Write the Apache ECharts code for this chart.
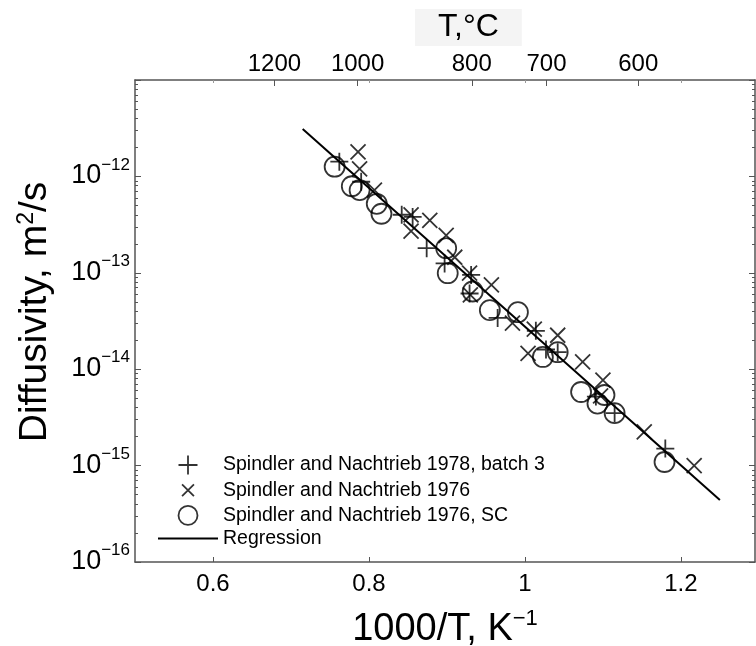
<!DOCTYPE html>
<html>
<head>
<meta charset="utf-8">
<script src="https://cdn.jsdelivr.net/npm/echarts@6/dist/echarts.min.js"></script>
<style>
  html, body { margin: 0; padding: 0; background: #fff; }
  #chart-container { width: 756px; height: 646px; }
</style>
</head>
<body>
<div id="chart-container"></div>
<script>
// 1000/T (K^-1) and diffusivity (m^2/s)
const batch3 = [
  [0.762, 1.42e-12], [0.790, 8.8e-13], [0.842, 4.0e-13], [0.856, 3.8e-13],
  [0.874, 1.8e-13], [0.897, 1.25e-13], [0.931, 9.5e-14], [0.929, 6.1e-14],
  [0.965, 3.4e-14], [1.014, 2.5e-14], [1.027, 1.6e-14], [1.042, 1.5e-14],
  [1.091, 5.2e-15], [1.115, 3.5e-15], [1.180, 1.5e-15]
];
const sn1976 = [
  [0.786, 1.8e-12], [0.788, 1.2e-12], [0.807, 7.2e-13], [0.854, 4.0e-13],
  [0.878, 3.5e-13], [0.854, 2.7e-13], [0.899, 2.45e-13], [0.910, 1.45e-13],
  [0.929, 9.9e-14], [0.957, 7.5e-14], [0.930, 5.9e-14], [0.984, 3.0e-14],
  [1.012, 2.6e-14], [1.042, 2.25e-14], [1.004, 1.46e-14], [1.074, 1.19e-14],
  [1.100, 7.7e-15], [1.097, 5.3e-15], [1.153, 2.24e-15], [1.217, 1.0e-15]
];
const sn1976SC = [
  [0.756, 1.26e-12], [0.778, 7.9e-13], [0.788, 7.2e-13], [0.810, 5.2e-13],
  [0.816, 4.1e-13], [0.899, 1.8e-13], [0.901, 9.9e-14], [0.933, 6.4e-14],
  [0.955, 4.1e-14], [0.991, 3.9e-14], [1.023, 1.34e-14], [1.042, 1.5e-14],
  [1.072, 5.8e-15], [1.093, 4.4e-15], [1.102, 5.4e-15], [1.115, 3.5e-15],
  [1.179, 1.09e-15]
];
const regression = [[0.715, 3.1e-12], [1.250, 4.4e-16]];

const seriesNames = [
  'Spindler and Nachtrieb 1978, batch 3',
  'Spindler and Nachtrieb 1976',
  'Spindler and Nachtrieb 1976, SC',
  'Regression'
];

// tick labels
const xTicks = [0.6, 0.8, 1.0, 1.2];
const tempTicks = [1200, 1000, 800, 700, 600]; // deg C, top axis

const FONT = "'Liberation Sans', Arial, Helvetica, sans-serif";
const AXIS_COLOR = '#555';
const X_MIN = 0.5, X_MAX = 1.295;
const MARK_W = 1.8;

const myChart = echarts.init(document.getElementById('chart-container'));

const logAxis = (pos, extra) => Object.assign({
  type: 'log',
  logBase: 10,
  min: 1e-16,
  max: 1e-11,
  position: pos,
  splitLine: { show: false },
  minorSplitLine: { show: false },
  axisLine: { show: true, lineStyle: { color: AXIS_COLOR, width: 1.5 } },
  axisTick: { show: true, inside: true, length: 6, lineStyle: { color: AXIS_COLOR } },
  minorTick: { show: true, splitNumber: 9, length: 3, lineStyle: { color: AXIS_COLOR } },
  axisLabel: { show: false }
}, extra);

const option = {
  animation: false,
  backgroundColor: '#fff',
  textStyle: { fontFamily: FONT, color: '#000' },
  title: {
    text: 'T,°C',
    left: 415,
    top: 9,
    backgroundColor: '#f4f4f4',
    padding: [2, 23, 3, 23],
    textStyle: { fontFamily: FONT, fontSize: 32, fontWeight: 'normal', color: '#000' }
  },
  grid: { left: 135, right: 1, top: 80, bottom: 84, containLabel: false, outerBoundsMode: 'none' },
  legend: {
    orient: 'vertical',
    left: 157,
    top: 453,
    padding: 0,
    itemWidth: 60,
    itemHeight: 19,
    itemGap: 1.2,
    data: [
      seriesNames[0], seriesNames[1], seriesNames[2],
      { name: seriesNames[3], itemStyle: { opacity: 0 } }
    ],
    textStyle: { fontFamily: FONT, fontSize: 19.5, lineHeight: 19, color: '#000' },
    itemStyle: { borderWidth: MARK_W }
  },
  xAxis: [
    {
      type: 'value', min: X_MIN, max: X_MAX, position: 'bottom',
      name: '{a|1000/T, K}{s|−1}',
      nameLocation: 'middle', nameGap: 46,
      nameTextStyle: {
        rich: {
          a: { fontFamily: FONT, fontSize: 38, color: '#000', verticalAlign: 'bottom' },
          s: { fontFamily: FONT, fontSize: 22, color: '#000', verticalAlign: 'bottom', padding: [0, 0, 19, 0] }
        }
      },
      splitLine: { show: false },
      axisLine: { lineStyle: { color: AXIS_COLOR, width: 1.5 } },
      axisTick: { inside: true, length: 5, customValues: xTicks, lineStyle: { color: AXIS_COLOR } },
      axisLabel: {
        customValues: xTicks, margin: 10, fontFamily: FONT, fontSize: 24, color: '#000',
        formatter: v => String(Math.round(v * 10) / 10)
      }
    },
    {
      type: 'value', min: X_MIN, max: X_MAX, position: 'top',
      splitLine: { show: false },
      axisLine: { lineStyle: { color: AXIS_COLOR, width: 1.5 } },
      axisTick: {
        inside: true, length: 6, lineStyle: { color: AXIS_COLOR },
        customValues: tempTicks.map(t => 1000 / (t + 273.15))
      },
      axisLabel: {
        customValues: tempTicks.map(t => 1000 / (t + 273.15)),
        margin: 4, fontFamily: FONT, fontSize: 24, color: '#000',
        formatter: v => String(Math.round(1000 / v - 273.15))
      }
    },
    {
      type: 'value', min: X_MIN, max: X_MAX, position: 'top',
      splitLine: { show: false },
      axisLine: { show: false },
      axisTick: { inside: true, length: 3, customValues: xTicks, lineStyle: { color: '#999' } },
      axisLabel: { show: false }
    }
  ],
  yAxis: [
    logAxis('left', {
      name: '{a|Diffusivity, m}{s|2}{a|/s}',
      nameLocation: 'middle', nameRotate: 90, nameGap: 80,
      nameTextStyle: {
        padding: [0, 0, 0, 18],
        rich: {
          a: { fontFamily: FONT, fontSize: 39, color: '#000', verticalAlign: 'bottom' },
          s: { fontFamily: FONT, fontSize: 23, color: '#000', verticalAlign: 'bottom', padding: [0, 0, 17, 0] }
        }
      },
      axisLabel: {
        show: true, margin: 5, showMaxLabel: false,
        formatter: v => '{b|10}{s|−' + Math.round(-Math.log10(v)) + '}',
        rich: {
          b: { fontFamily: FONT, fontSize: 27, color: '#000', verticalAlign: 'bottom', padding: [0, 0, 7, 0] },
          s: { fontFamily: FONT, fontSize: 17, color: '#000', verticalAlign: 'bottom', padding: [0, 0, 23, 0] }
        }
      }
    }),
    logAxis('right', {})
  ],
  series: [
    {
      name: seriesNames[0], type: 'scatter', data: batch3,
      symbol: 'path://M0,-10L0,10M-10,0L10,0', symbolKeepAspect: true, symbolSize: 18,
      itemStyle: { color: 'none', borderColor: '#000', borderWidth: MARK_W }
    },
    {
      name: seriesNames[1], type: 'scatter', data: sn1976,
      symbol: 'path://M-16,-16M16,16M-10,-10L10,10M-10,10L10,-10', symbolKeepAspect: true, symbolSize: 24,
      itemStyle: { color: 'none', borderColor: '#000', borderWidth: MARK_W }
    },
    {
      name: seriesNames[2], type: 'scatter', data: sn1976SC,
      symbol: 'circle', symbolSize: 20,
      itemStyle: { color: 'none', borderColor: '#000', borderWidth: MARK_W }
    },
    {
      name: seriesNames[3], type: 'line', data: regression,
      symbol: 'none', color: '#000',
      lineStyle: { color: '#000', width: 2 }
    }
  ]
};

myChart.setOption(option);
</script>
</body>
</html>
